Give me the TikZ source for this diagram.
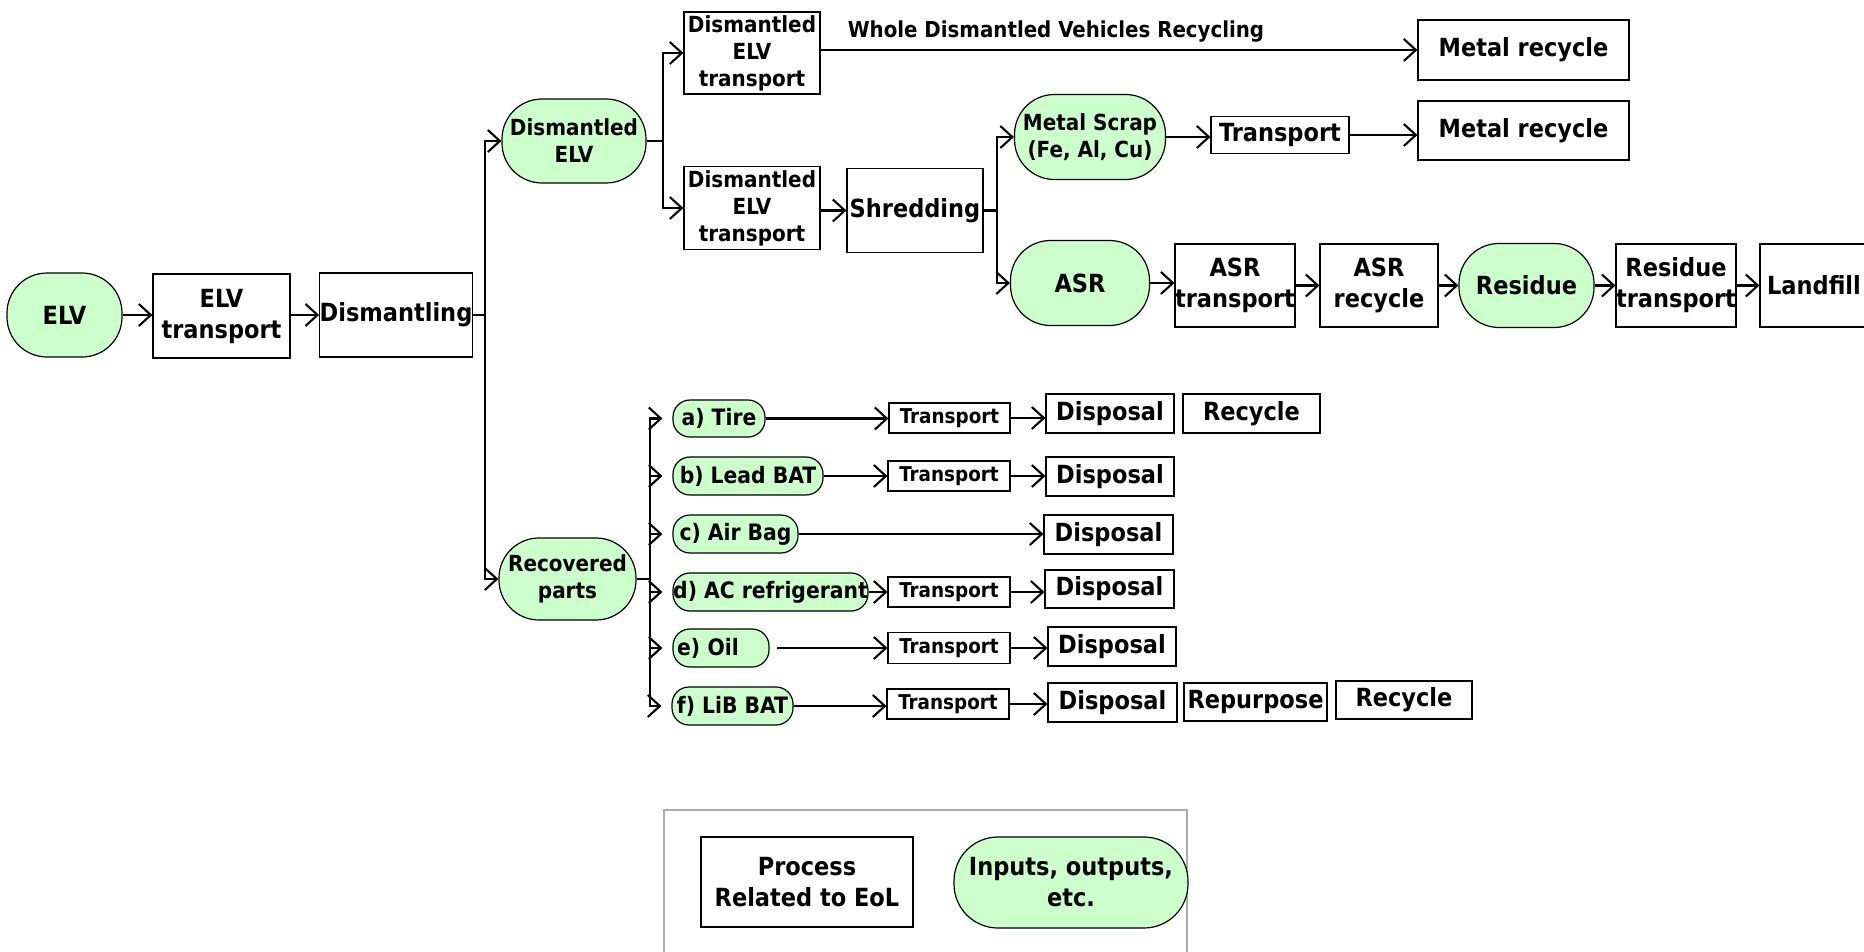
\documentclass[tikz,border=0pt]{standalone}
\usepackage{fontspec}
\setmainfont{DejaVu Sans Condensed}
\usetikzlibrary{arrows.meta}
\definecolor{iogreen}{RGB}{204,255,204}
\definecolor{framegray}{RGB}{172,172,172}
% text sizes
\newcommand\txtL{\fontsize{25}{31}\selectfont\bfseries}
\newcommand\txtM{\fontsize{22.2}{27}\selectfont\bfseries}
\newcommand\txtP{\fontsize{22.6}{26}\selectfont\bfseries}
\newcommand\txtS{\fontsize{20.4}{22}\selectfont\bfseries}
\newcommand\txtW{\fontsize{22}{24}\selectfont\bfseries}
\tikzset{
  sz/.style 2 args={minimum width=#1, minimum height=#2},
  box/.style={draw, line width=1.2pt, fill=white, inner sep=0pt, align=center},
  proc/.style={box, font=\txtL},
  procM/.style={box, font=\txtM},
  tbox/.style={box, font=\txtS},
  io/.style={box, fill=iogreen, rounded corners=40pt, font=\txtL},
  ioM/.style={io, font=\txtM},
  part/.style={box, fill=iogreen, rounded corners=17pt, font=\txtP},
  conn/.style={line width=2.1pt},
  arr/.style={conn, -{Straight Barb[length=12pt,width=22pt,line width=2.1pt]}},
  legendframe/.style={draw=framegray, line width=2.6pt, inner sep=0pt}
}
\begin{document}
\begin{tikzpicture}[x=1pt,y=-1pt]
\useasboundingbox (0,0) rectangle (1864,952);

% main line
\node[io, sz={115}{84}] (elv) at (64.5,315) {ELV};
\node[proc, sz={137}{84}] (elvt) at (221.5,316) {ELV\\transport};
\node[proc, sz={152}{84}] (dism) at (396,315) {Dismantling};

% dismantled vehicle branch
\node[ioM, sz={144}{84}] (delv) at (574,141) {Dismantled\\ELV};
\node[procM, sz={136}{82}] (t1) at (752,53) {Dismantled\\ELV\\transport};
\node[procM, sz={136}{83}] (t2) at (752,208) {Dismantled\\ELV\\transport};
\node[proc, sz={136}{84}] (shred) at (915,210.5) {Shredding};
\node[proc, sz={211}{60}] (mr1) at (1523.5,50) {Metal recycle};
\node[font=\txtW] (wlab) at (1056,32) {Whole Dismantled Vehicles Recycling};

% shredder outputs
\node[ioM, sz={151}{85}] (ms) at (1090,137) {Metal Scrap\\(Fe, Al, Cu)};
\node[proc, sz={138}{37}] (tr) at (1280,135) {Transport};
\node[proc, sz={211}{59}] (mr2) at (1523.5,130.5) {Metal recycle};
\node[io, sz={139}{85}] (asr) at (1080,283) {ASR};
\node[proc, sz={118}{83}] (asrt) at (1235,285.5) {ASR\\transport};
\node[proc, sz={118}{83}] (asrr) at (1379,285.5) {ASR\\recycle};
\node[io, sz={135}{84}] (res) at (1526.5,285.5) {Residue};
\node[proc, sz={112}{83}] (rest) at (1676,285.5) {Residue\\transport};
\node[proc, sz={108}{83}] (land) at (1814,285.5) {Landfill};

% recovered parts
\node[ioM, sz={137}{82}] (rec) at (567.5,579) {Recovered\\parts};
\node[part, sz={92}{37}] (pa) at (719,418.5) {a) Tire};
\node[part, sz={150}{38}] (pb) at (748,476) {b) Lead BAT};
\node[part, sz={125}{38}] (pc) at (735.5,534) {c) Air Bag};
\node[part, sz={195}{38}] (pd) at (770.5,592) {d) AC refrigerant};
\node[part, sz={96}{38}, text width=88pt, align=left] (pe) at (721,648) {e) Oil};
\node[part, sz={121}{38}] (pf) at (732.5,706) {f) LiB BAT};

\node[tbox, sz={121}{30}] (ta) at (949.5,418) {Transport};
\node[tbox, sz={122}{30}] (tb) at (949,476) {Transport};
\node[tbox, sz={122}{30}] (td) at (949,592) {Transport};
\node[tbox, sz={122}{31}] (te) at (949,648) {Transport};
\node[tbox, sz={122}{30}] (tf) at (948,704) {Transport};

\node[proc, sz={128}{39}] (da) at (1110,413.5) {Disposal};
\node[proc, sz={137}{39}] (ra) at (1251.5,413.5) {Recycle};
\node[proc, sz={128}{39}] (db) at (1110,476.5) {Disposal};
\node[proc, sz={129}{39}] (dc) at (1108.5,534.5) {Disposal};
\node[proc, sz={129}{38}] (dd) at (1109.5,589) {Disposal};
\node[proc, sz={128}{39}] (de) at (1112,646.5) {Disposal};
\node[proc, sz={129}{39}] (df) at (1112.5,702.5) {Disposal};
\node[proc, sz={143}{38}] (rpf) at (1255.5,702) {Repurpose};
\node[proc, sz={136}{38}] (rf) at (1404,700) {Recycle};

% legend
\node[legendframe, sz={523}{160}] (legend) at (925.5,890) {};
\node[proc, sz={212}{90}] (lproc) at (807,882) {Process\\Related to EoL};
\node[io, sz={234}{91}, rounded corners=44pt] (lio) at (1071,882.5) {Inputs, outputs,\\etc.};

% ---- connectors ----
\draw[arr] (elv.east) -- (elv.east -| elvt.west);
\draw[arr] (elvt.east |- dism.west) -- (dism.west);

\coordinate (j1) at (485,315);
\draw[conn] (dism.east) -- (j1);
\draw[arr] (j1) |- (delv.west);
\draw[arr] (j1) |- (rec.west);

\coordinate (j2) at (663,141);
\draw[conn] (delv.east) -- (j2);
\draw[arr] (j2) |- (t1.west);
\draw[arr] (j2) |- (t2.west);

\draw[arr] (t1.east |- mr1.west) -- (mr1.west);
\draw[arr] (t2.east |- shred.west) -- (shred.west);

\coordinate (j3) at (997,210.5);
\draw[conn] (shred.east) -- (j3);
\draw[arr] (j3) |- (ms.west);
\draw[arr] (j3) |- (asr.west);

\draw[arr] (ms.east) -- (ms.east -| tr.west);
\draw[arr] (tr.east) -- (tr.east -| mr2.west);

\draw[arr] (asr.east) -- (asr.east -| asrt.west);
\draw[arr] (asrt.east) -- (asrr.west);
\draw[arr] (asrr.east) -- (res.west);
\draw[arr] (res.east) -- (rest.west);
\draw[arr] (rest.east) -- (land.west);

\coordinate (j4) at (650,579);
\draw[conn] (rec.east) -- (j4);
\draw[conn] (j4) -- (650,418.5);
\foreach \p in {pa,pb,pc,pd,pe,pf}
  \draw[arr, shorten >=10pt] (j4) |- (\p.west);

\draw[arr] (pa.east) -- (pa.east -| ta.west);
\draw[arr] (ta.east) -- (ta.east -| da.west);
\draw[arr] (pb.east) -- (pb.east -| tb.west);
\draw[arr] (tb.east) -- (tb.east -| db.west);
\draw[arr] (pc.east) -- (pc.east -| dc.west);
\draw[arr] (pd.east) -- (pd.east -| td.west);
\draw[arr] (td.east) -- (td.east -| dd.west);
\draw[arr, shorten <=7pt] (pe.east) -- (pe.east -| te.west);
\draw[arr] (te.east) -- (te.east -| de.west);
\draw[arr] (pf.east) -- (pf.east -| tf.west);
\draw[arr] (tf.east) -- (tf.east -| df.west);
\end{tikzpicture}
\end{document}
